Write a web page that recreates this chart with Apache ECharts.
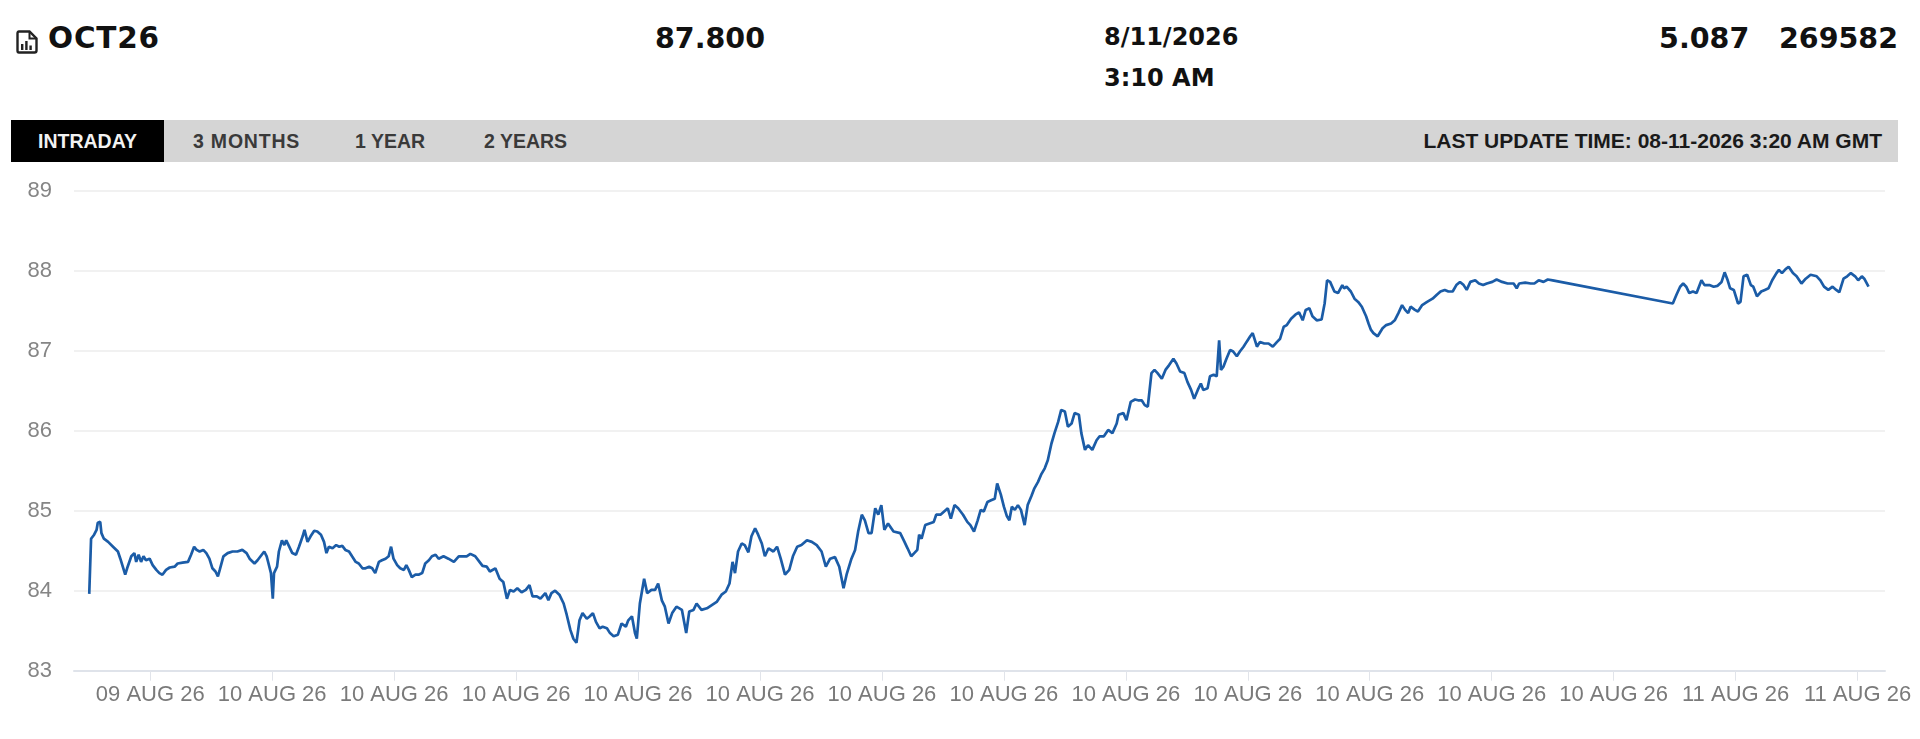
<!DOCTYPE html>
<html>
<head>
<meta charset="utf-8">
<title>OCT26 intraday</title>
<script src="https://cdn.jsdelivr.net/npm/echarts@6.0.0/dist/echarts.min.js"></script>
<style>
    html, body { margin: 0; padding: 0; background: #fff; }
    body { width: 1920px; height: 739px; position: relative; overflow: hidden; font-family: 'Liberation Sans', Arial, sans-serif; }
    .big { position: absolute; font-family: 'DejaVu Sans', sans-serif; font-weight: bold; color: #111; white-space: pre; }
    .tabbar { position: absolute; left: 11px; top: 120px; width: 1887px; height: 42px; background: #d5d5d5; }
    .tab { position: absolute; top: 0; height: 42px; line-height: 42px; font-weight: bold; font-size: 19.5px; color: #3a3a3a; }
    .tab.on { left: 0; width: 153px; background: #000; color: #f2f2f2; text-align: center; }
    .upd { position: absolute; right: 16px; top: 0; height: 42px; line-height: 42px; font-weight: bold; font-size: 21px; color: #1a1a1a; }
    #chart { position: absolute; left: 0; top: 170px; width: 1920px; height: 569px; }
</style>
</head>
<body>

<svg style="position:absolute;left:16px;top:30px" width="22" height="24" viewBox="0 0 22 24">
    <path d="M3 1.5 H13.5 L20.5 8.5 V20.5 Q20.5 22.5 18.5 22.5 H3 Q1.5 22.5 1.5 20.5 V3.5 Q1.5 1.5 3 1.5 Z" fill="none" stroke="#222" stroke-width="2.4"/>
    <path d="M13.5 1.5 V8.5 H20.5" fill="none" stroke="#222" stroke-width="2"/>
    <rect x="5" y="14" width="2.4" height="6" fill="#222"/>
    <rect x="9.2" y="11" width="2.4" height="9" fill="#222"/>
    <rect x="13.4" y="15.5" width="2.4" height="4.5" fill="#222"/>
</svg>
<div class="big" style="left:48px;top:23px;font-size:29.5px;line-height:30px;letter-spacing:0.8px">OCT26</div>
<div class="big" style="left:655px;top:24px;font-size:28.5px;line-height:29px">87.800</div>
<div class="big" style="left:1104px;top:25px;font-size:24px;line-height:25px">8/11/2026</div>
<div class="big" style="left:1104px;top:66px;font-size:24px;line-height:25px">3:10 AM</div>
<div class="big" style="right:22px;top:24px;font-size:28.5px;line-height:29px">5.087   269582</div>

<div class="tabbar">
    <div class="tab on">INTRADAY</div>
    <div class="tab" style="left:182px;letter-spacing:0.8px">3 MONTHS</div>
    <div class="tab" style="left:344px">1 YEAR</div>
    <div class="tab" style="left:473px">2 YEARS</div>
    <div class="upd">LAST UPDATE TIME: 08-11-2026 3:20 AM GMT</div>
</div>

<div id="chart"></div>

<script>
// hours counted from 09 AUG 26 00:00 (so 24 = 10 AUG 00:00, 48 = 11 AUG 00:00)
var hours = [
    21.00,21.03,21.08,21.12,21.14,21.18,21.20,21.24,21.31,21.39,21.47,21.51,21.55,21.59,21.63,21.69,21.74,21.77,21.81,21.85,
    21.89,21.93,21.99,22.04,22.10,22.15,22.20,22.26,22.32,22.40,22.45,22.53,22.62,22.67,22.72,22.76,22.81,22.87,22.92,22.97,
    23.02,23.07,23.11,23.14,23.20,23.27,23.35,23.43,23.51,23.58,23.63,23.71,23.76,23.81,23.87,23.91,23.94,23.98,24.01,24.03,
    24.08,24.11,24.16,24.20,24.23,24.28,24.33,24.39,24.44,24.50,24.53,24.58,24.63,24.69,24.74,24.80,24.85,24.89,24.93,24.99,
    25.05,25.10,25.15,25.20,25.26,25.31,25.37,25.42,25.48,25.53,25.59,25.64,25.69,25.75,25.80,25.86,25.91,25.95,25.99,26.05,
    26.10,26.16,26.20,26.24,26.29,26.35,26.40,26.46,26.51,26.57,26.62,26.68,26.73,26.81,26.89,26.98,27.06,
    27.19,27.25,27.33,27.40,27.45,27.52,27.57,27.66,27.73,27.79,27.85,27.90,27.96,28.02,28.09,28.16,28.22,28.27,28.34,28.40,
    28.48,28.53,28.58,28.64,28.71,28.78,28.83,28.89,28.94,28.99,29.04,29.09,29.16,29.21,29.26,29.31,29.37,29.42,29.49,29.54,
    29.60,29.67,29.73,29.80,29.84,29.90,29.95,29.98,30.03,30.10,30.15,30.22,30.28,30.33,30.39,30.44,30.50,30.56,30.63,30.72,
    30.79,30.84,30.91,30.96,31.04,31.13,31.21,31.29,31.37,31.44,31.50,31.55,31.59,31.64,31.70,31.75,31.81,31.86,31.92,31.97,
    32.03,32.08,32.14,32.22,32.28,32.34,32.41,32.48,32.54,32.61,32.68,32.77,32.85,32.93,33.01,33.08,33.15,33.23,33.30,33.37,
    33.42,33.50,33.56,33.61,33.67,33.72,33.78,33.83,33.89,33.94,33.99,34.04,34.10,34.19,34.30,
    34.37,34.42,34.48,34.53,34.58,34.61,34.65,34.71,34.78,34.85,34.89,34.96,35.02,35.08,35.13,35.19,35.25,35.33,35.40,35.45,
    35.51,35.57,35.62,35.67,35.73,35.79,35.85,35.89,35.95,36.00,36.05,36.09,36.13,36.18,36.23,36.28,36.34,36.39,36.45,36.50,
    36.56,36.61,36.67,36.72,36.78,36.83,36.89,36.94,37.00,37.05,37.11,37.16,37.23,37.27,37.33,37.38,37.45,37.52,37.57,37.64,
    37.71,37.78,37.85,37.88,37.96,38.01,38.08,38.15,38.20,38.26,38.31,38.36,38.42,38.47,38.52,38.59,38.65,38.71,38.78,38.83,
    38.89,38.96,39.01,39.07,39.12,39.18,39.23,39.27,39.34,39.38,39.44,39.49,39.53,39.56,39.60,39.65,39.71,39.76,39.82,39.87,
    39.93,39.98,40.04,40.08,40.15,40.20,40.27,40.34,40.41,40.48,40.53,40.59,40.64,40.71,40.78,40.84,40.90,40.95,41.01,41.06,
    41.13,41.21,41.26,41.30,41.35,41.42,41.48,41.55,
    41.58,41.62,41.69,41.75,41.81,41.87,41.94,41.98,42.02,42.06,42.13,42.16,42.21,42.27,42.35,42.41,42.47,42.53,42.58,42.63,
    42.67,42.74,42.79,42.86,42.94,43.03,43.10,43.16,43.23,43.29,43.36,43.42,43.48,43.54,43.59,43.65,43.73,43.79,43.86,43.92,
    44.01,44.08,44.17,44.26,44.36,44.41,44.45,44.55,44.64,44.70,44.77,44.85,44.92,45.00,
    46.97,47.03,47.09,47.14,47.19,47.24,47.30,47.36,47.44,47.49,47.57,47.64,47.70,47.77,47.82,47.87,47.91,47.97,48.04,48.08,
    48.13,48.19,48.25,48.29,48.35,48.42,48.48,48.54,48.60,48.67,48.71,48.76,48.82,48.87,48.94,49.00,49.08,49.15,49.23,49.33,
    49.39,49.45,49.52,49.59,49.65,49.70,49.77,49.83,49.89,49.96,50.01,50.07,50.11,50.18
];

var prices = [
    83.96,84.65,84.70,84.76,84.85,84.86,84.72,84.65,84.61,84.55,84.49,84.40,84.30,84.20,84.30,84.43,84.47,84.36,84.45,84.36,
    84.43,84.38,84.40,84.32,84.26,84.22,84.20,84.26,84.29,84.30,84.34,84.35,84.36,84.45,84.55,84.51,84.49,84.51,84.47,84.40,
    84.28,84.24,84.18,84.26,84.43,84.47,84.49,84.49,84.51,84.47,84.40,84.34,84.38,84.43,84.49,84.43,84.34,84.22,83.90,84.22,
    84.30,84.49,84.63,84.57,84.63,84.55,84.47,84.45,84.55,84.68,84.76,84.61,84.68,84.75,84.74,84.70,84.61,84.47,84.55,84.53,
    84.57,84.55,84.56,84.51,84.49,84.43,84.36,84.34,84.28,84.28,84.30,84.28,84.22,84.36,84.38,84.40,84.43,84.55,84.40,84.32,
    84.28,84.26,84.32,84.26,84.17,84.20,84.20,84.22,84.34,84.38,84.43,84.45,84.40,84.43,84.40,84.36,84.43,
    84.43,84.46,84.43,84.36,84.31,84.30,84.24,84.28,84.15,84.11,83.90,84.01,83.99,84.03,83.98,84.01,84.07,83.93,83.93,83.90,
    83.97,83.88,83.97,84.00,83.95,83.84,83.70,83.51,83.40,83.35,83.63,83.72,83.65,83.68,83.72,83.61,83.53,83.55,83.53,83.47,
    83.43,83.45,83.59,83.55,83.63,83.68,83.47,83.40,83.84,84.15,83.97,84.01,84.01,84.09,83.88,83.80,83.59,83.72,83.80,83.76,
    83.47,83.74,83.76,83.84,83.76,83.78,83.82,83.86,83.95,83.99,84.09,84.36,84.22,84.49,84.59,84.57,84.48,84.68,84.78,84.70,
    84.59,84.43,84.53,84.49,84.55,84.40,84.20,84.26,84.43,84.55,84.57,84.63,84.61,84.57,84.49,84.30,84.40,84.42,84.30,84.03,
    84.20,84.40,84.51,84.74,84.95,84.88,84.72,84.72,85.03,84.95,85.07,84.76,84.84,84.74,84.72,
    84.61,84.53,84.43,84.47,84.51,84.70,84.65,84.82,84.84,84.86,84.95,84.95,84.99,85.03,84.90,85.07,85.03,84.95,84.86,84.82,
    84.74,84.88,85.01,84.99,85.11,85.13,85.15,85.34,85.20,85.05,84.93,84.88,85.05,85.01,85.07,85.01,84.82,85.07,85.18,85.28,
    85.36,85.45,85.53,85.63,85.84,85.97,86.11,86.26,86.24,86.05,86.09,86.22,86.20,85.97,85.76,85.82,85.76,85.88,85.93,85.93,
    86.01,85.97,86.09,86.20,86.22,86.13,86.36,86.39,86.38,86.38,86.32,86.30,86.72,86.76,86.72,86.65,86.76,86.82,86.90,86.84,
    86.74,86.72,86.61,86.51,86.40,86.51,86.59,86.51,86.53,86.68,86.70,86.68,87.13,86.76,86.80,86.90,87.01,86.99,86.93,86.99,
    87.05,87.11,87.18,87.22,87.05,87.11,87.09,87.09,87.05,87.11,87.15,87.30,87.32,87.40,87.45,87.48,87.38,87.51,87.53,87.43,
    87.38,87.39,87.59,87.88,87.86,87.74,87.72,87.82,
    87.78,87.80,87.74,87.65,87.61,87.55,87.43,87.34,87.26,87.22,87.18,87.20,87.28,87.32,87.34,87.38,87.47,87.57,87.51,87.47,
    87.55,87.51,87.49,87.57,87.61,87.65,87.70,87.74,87.76,87.74,87.74,87.82,87.86,87.82,87.76,87.86,87.88,87.84,87.82,87.84,
    87.86,87.89,87.86,87.84,87.84,87.78,87.84,87.85,87.84,87.84,87.88,87.86,87.89,87.88,
    87.59,87.70,87.80,87.84,87.80,87.72,87.74,87.72,87.88,87.82,87.82,87.80,87.81,87.86,87.98,87.88,87.78,87.76,87.59,87.61,
    87.93,87.95,87.82,87.80,87.68,87.74,87.76,87.78,87.88,87.97,88.01,87.97,88.02,88.05,87.97,87.93,87.84,87.90,87.95,87.93,
    87.88,87.80,87.76,87.80,87.76,87.73,87.90,87.93,87.97,87.93,87.88,87.93,87.90,87.80
];

// tick labels every 2 hours, 09 AUG 22:00 .. 11 AUG 02:00
var tickHours = [22, 24, 26, 28, 30, 32, 34, 36, 38, 40, 42, 44, 46, 48, 50];

var chart = echarts.init(document.getElementById('chart'));

var points = [];
for (var i = 0; i < hours.length; i++) {
    points.push([hours[i], prices[i]]);
}

chart.setOption({
    animation: false,
    grid: { left: 74, right: 35, top: 20.7, bottom: 68.3 },
    xAxis: {
        type: 'value',
        min: 20.75,
        max: 50.45,
        splitLine: { show: false },
        axisLine: { show: true, lineStyle: { color: '#dfe3ea', width: 2 } },
        axisTick: {
            show: true,
            customValues: tickHours,
            length: 10,
            lineStyle: { color: '#e1e4ea', width: 1 }
        },
        axisLabel: {
            customValues: tickHours,
            margin: 13,
            fontSize: 22,
            fontFamily: 'Liberation Sans, Arial, sans-serif',
            color: '#7a7a7a',
            formatter: function (h) {
                var day = 9 + Math.floor(h / 24);
                return (day < 10 ? '0' : '') + day + ' AUG 26';
            }
        }
    },
    yAxis: {
        type: 'value',
        min: 83,
        max: 89,
        interval: 1,
        axisLine: { show: false },
        axisTick: { show: false },
        splitLine: { lineStyle: { color: '#ececec', width: 1.5 } },
        axisLabel: {
            margin: 22,
            fontSize: 22,
            fontFamily: 'Liberation Sans, Arial, sans-serif',
            color: '#858585'
        }
    },
    series: [{
        name: 'OCT26',
        type: 'line',
        data: points,
        symbol: 'none',
        smooth: false,
        lineStyle: { color: '#1b5ca7', width: 2.7 }
    }]
});
</script>
</body>
</html>
